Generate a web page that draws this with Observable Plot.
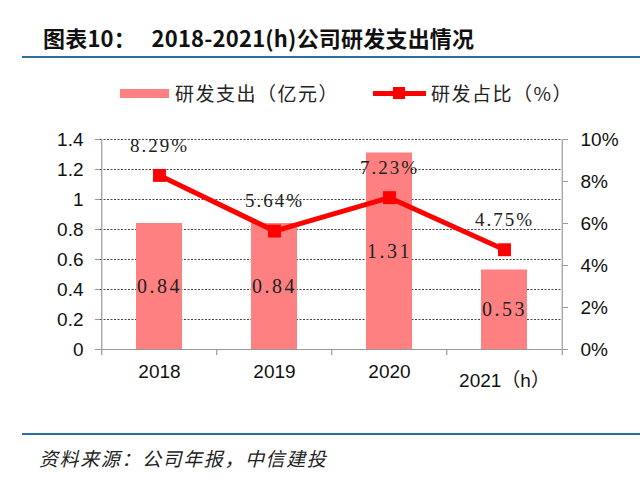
<!DOCTYPE html>
<html>
<head>
<meta charset="utf-8">
<script src="https://cdn.jsdelivr.net/npm/d3@7"></script>
<script src="https://cdn.jsdelivr.net/npm/@observablehq/plot@0.6"></script>
<style>
  html, body { margin: 0; padding: 0; background: #fff; }
  #page { position: relative; width: 640px; height: 489px; overflow: hidden; background: #fff; font-family: "Noto Sans CJK SC", "Liberation Sans", sans-serif; }
  .abs { position: absolute; white-space: nowrap; }
  #title { left: 43px; top: 23px; font-size: 22px; font-weight: bold; line-height: 28px; color: #111; letter-spacing: 0.2px; }
  .rule { position: absolute; left: 22px; width: 618px; height: 2px; background: #2e6e9e; }
  #legend { position: absolute; left: 0; top: 80px; width: 640px; height: 26px; font-size: 19px; color: #222; }
  #caption { left: 39px; top: 446px; font-size: 19px; font-style: italic; color: #222; line-height: 24px; letter-spacing: 1.6px; }
  #chart { position: absolute; left: 0; top: 110px; }
  #chart g.pct text { letter-spacing: 2px; }
  #chart g.val text { letter-spacing: 2.5px; }
</style>
</head>
<body>
<div id="page">
  <div id="title" class="abs">图表10：&nbsp;&nbsp;&nbsp;2018-2021(h)公司研发支出情况</div>
  <div class="rule" style="top:56px"></div>
  <div id="legend">
    <div class="abs" style="left:120px; top:9px; width:49px; height:9px; background:#ff8080;"></div>
    <div class="abs" style="left:175px; top:0px; line-height:26px; letter-spacing:1.5px;">研发支出（亿元）</div>
    <div class="abs" style="left:373px; top:11px; width:53px; height:5px; background:#ff0000;"></div>
    <div class="abs" style="left:393px; top:7px; width:12px; height:12px; background:#ff0000;"></div>
    <div class="abs" style="left:431px; top:0px; line-height:26px; letter-spacing:1.5px;">研发占比（%）</div>
  </div>
  <div id="chart"></div>
  <div class="rule" style="top:433px"></div>
  <div id="caption" class="abs">资料来源：公司年报，中信建投</div>
</div>
<script>
// ---- data ----
const years = ["2018", "2019", "2020", "2021（h）"];
const spend = [0.84, 0.84, 1.31, 0.53];          // 研发支出（亿元）
const ratio = [8.29, 5.64, 7.23, 4.75];          // 研发占比（%）
const leftTicks = [0, 0.2, 0.4, 0.6, 0.8, 1, 1.2, 1.4];
const rightTicks = [0, 2, 4, 6, 8, 10];

const rows = years.map((y, i) => ({year: y, spend: spend[i], ratio: ratio[i]}));
const k = 1.4 / 10; // right axis (%) mapped onto left axis domain

const W = 640, H = 290, mL = 100, mR = 78, mT = 29, mB = 51;
const step = (W - mL - mR) / years.length;
const sans = "Liberation Sans, Arial, Noto Sans CJK SC, sans-serif";
const serif = "Liberation Serif, Times New Roman, serif";

const chart = Plot.plot({
  width: W, height: H,
  marginLeft: mL, marginRight: mR, marginTop: mT, marginBottom: mB,
  style: {fontFamily: sans, fontSize: "19px", color: "#111", background: "transparent", overflow: "visible"},
  x: {domain: years, paddingInner: 0.6, paddingOuter: 0.3, axis: null},
  y: {domain: [0, 1.4], axis: null},
  marks: [
    Plot.gridY(leftTicks.slice(1), {stroke: "#444", strokeOpacity: 1, strokeDasharray: "2,1.5", strokeWidth: 1}),
    Plot.barY(rows, {x: "year", y: "spend", fill: "#ff8080"}),
    // axis lines
    Plot.ruleY([0], {stroke: "#999", strokeWidth: 1.2}),
    Plot.ruleX([years[0]], {dx: -step / 2, y1: 0, y2: 1.4, stroke: "#999", strokeWidth: 1.2}),
    Plot.ruleX([years[years.length - 1]], {dx: step / 2, y1: 0, y2: 1.4, stroke: "#999", strokeWidth: 1.2}),
    // category boundary tick marks
    Plot.ruleX(years, {dx: -step / 2, y1: 0, y2: 0, insetBottom: -6, stroke: "#999", strokeWidth: 1.2}),
    Plot.ruleX([years[years.length - 1]], {dx: step / 2, y1: 0, y2: 0, insetBottom: -6, stroke: "#999", strokeWidth: 1.2}),
    // axes
    Plot.axisY(leftTicks, {anchor: "left", label: null, tickSize: 5, tickPadding: 12, stroke: "#999", tickFormat: d => String(d), fontSize: 19, fill: "#111"}),
    Plot.axisY(rightTicks.map(t => t * k), {anchor: "right", label: null, tickSize: 5, tickPadding: 13, stroke: "#999", tickFormat: d => Math.round(d / k) + "%", fontSize: 19, fill: "#111"}),
    Plot.axisX(years.slice(0, 3), {anchor: "bottom", label: null, tickSize: 0, tickPadding: 15, fontSize: 19, fill: "#111"}),
    Plot.axisX(years.slice(3), {anchor: "bottom", label: null, tickSize: 0, tickPadding: 24, fontSize: 19, fill: "#111"}),
    // line
    Plot.line(rows, {x: "year", y: d => d.ratio * k, stroke: "#ff0000", strokeWidth: 5}),
    Plot.dot(rows, {x: "year", y: d => d.ratio * k, symbol: "square", r: 7.3, fill: "#ff0000", stroke: null}),
    // labels
    Plot.text(rows, {x: "year", y: d => d.ratio * k, text: d => d.ratio.toFixed(2) + "%", dy: -30, fontFamily: serif, fontSize: 19, fill: "#222", className: "pct"}),
    Plot.text(rows, {x: "year", y: d => d.spend / 2, text: d => d.spend.toFixed(2), fontFamily: serif, fontSize: 20, fill: "#222", className: "val"})
  ]
});
document.getElementById("chart").appendChild(chart);
</script>
</body>
</html>
